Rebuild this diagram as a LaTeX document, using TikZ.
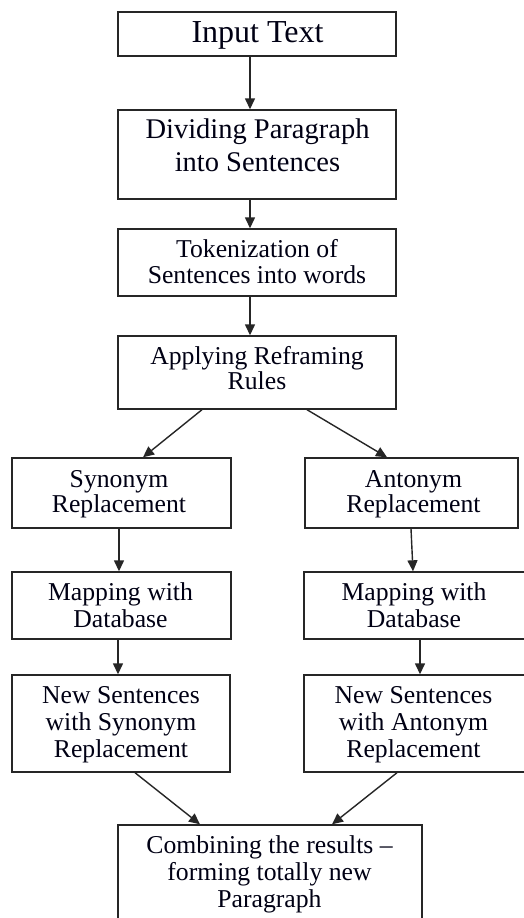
\documentclass[tikz,border=0pt]{standalone}
\usepackage{fontspec}
\setmainfont{Liberation Serif}
\usetikzlibrary{arrows.meta}
\newcommand{\tb}[1]{\begin{tabular}[t]{@{}c@{}}#1\end{tabular}}
\begin{document}
\begin{tikzpicture}[x=1pt,y=-1pt,
  box/.style={draw=black!85, line width=1.4pt, rectangle, inner sep=0pt},
  txt/.style={anchor=base, inner sep=0pt, text=black!92!blue},
  arr/.style={draw=black!85, line width=1.4pt, -{Triangle[length=11pt,width=10pt]}}]
\clip (0,0) rectangle (524,918);
\fill[white] (0,0) rectangle (524,918);
% boxes
\node[box, minimum width=278pt, minimum height=44pt] (b1) at (257,34) {};
\node[box, minimum width=278pt, minimum height=89pt] (b2) at (257,154.5) {};
\node[box, minimum width=278pt, minimum height=67pt] (b3) at (257,262.5) {};
\node[box, minimum width=278pt, minimum height=73pt] (b4) at (257,372.5) {};
\node[box, minimum width=219pt, minimum height=70pt] (b5) at (121.5,493) {};
\node[box, minimum width=213pt, minimum height=70pt] (b6) at (411.5,493) {};
\node[box, minimum width=219pt, minimum height=67pt] (b7) at (121.5,605.5) {};
\node[box, minimum width=226pt, minimum height=67pt] (b8) at (417,605.5) {};
\node[box, minimum width=218pt, minimum height=97pt] (b9) at (121,723.5) {};
\node[box, minimum width=226pt, minimum height=97pt] (b10) at (417,723.5) {};
\node[box, minimum width=304pt, minimum height=110pt] (b11) at (270,880) {};
% texts
\node[txt, font=\fontsize{32}{34}\selectfont] (t1) at (257.5,42) {Input Text};
\node[txt, font=\fontsize{28.5}{33}\selectfont] (t2) at (257.5,138) {\tb{Dividing Paragraph\\into Sentences}};
\node[txt, font=\fontsize{25.7}{26}\selectfont] (t3) at (257,257) {\tb{Tokenization of\\Sentences into words}};
\node[txt, font=\fontsize{25.7}{25}\selectfont] (t4) at (257,364) {\tb{Applying Reframing\\Rules}};
\node[txt, font=\fontsize{25.7}{25}\selectfont] (t5) at (119,487) {\tb{Synonym\\Replacement}};
\node[txt, font=\fontsize{25.7}{25}\selectfont] (t6) at (413.5,487) {\tb{Antonym\\Replacement}};
\node[txt, font=\fontsize{25.7}{27}\selectfont] (t7) at (120.5,600) {\tb{Mapping with\\Database}};
\node[txt, font=\fontsize{25.7}{27}\selectfont] (t8) at (414,600) {\tb{Mapping with\\Database}};
\node[txt, font=\fontsize{25.7}{27}\selectfont] (t9) at (121,703) {\tb{New Sentences\\with Synonym\\Replacement}};
\node[txt, font=\fontsize{25.7}{27}\selectfont] (t10) at (413.5,703) {\tb{New Sentences\\with Antonym\\Replacement}};
\node[txt, font=\fontsize{25.7}{27}\selectfont] (t11) at (269.5,853) {\tb{Combining the results --\\forming totally new\\Paragraph}};
% connectors
\draw[arr] ([xshift=-7pt]b1.south) -- ([xshift=-7pt]b2.north);
\draw[arr] ([xshift=-7pt]b2.south) -- ([xshift=-7pt]b3.north);
\draw[arr] ([xshift=-7pt]b3.south) -- ([xshift=-7pt]b4.north);
\draw[arr] ([xshift=-55pt]b4.south) -- ([xshift=21.5pt]b5.north);
\draw[arr] ([xshift=50pt]b4.south) -- ([xshift=-24.5pt]b6.north);
\draw[arr] ([xshift=-2.5pt]b5.south) -- ([xshift=-2.5pt]b7.north);
\draw[arr] ([xshift=-0.5pt]b6.south) -- ([xshift=-4pt]b8.north);
\draw[arr] ([xshift=-3.5pt]b7.south) -- ([xshift=-3pt]b9.north);
\draw[arr] ([xshift=3pt]b8.south) -- ([xshift=3pt]b10.north);
\draw[arr] ([xshift=14pt]b9.south) -- ([xshift=-70pt]b11.north);
\draw[arr] ([xshift=-20pt]b10.south) -- ([xshift=62pt]b11.north);
\end{tikzpicture}
\end{document}
